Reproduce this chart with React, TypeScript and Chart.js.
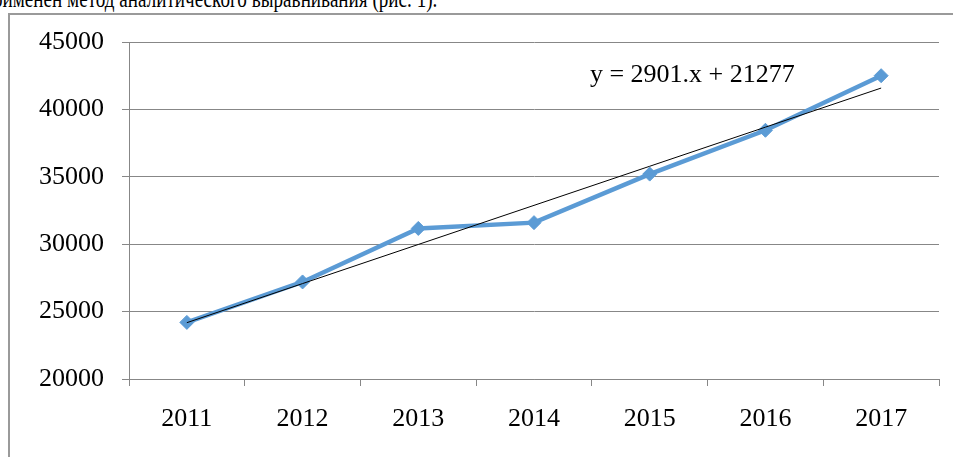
import React, { useEffect, useRef } from "react";
import { Chart, registerables } from "chart.js";

Chart.register(...registerables);

const years: string[] = ["2011", "2012", "2013", "2014", "2015", "2016", "2017"];
const values: number[] = [24200, 27200, 31170, 31600, 35200, 38450, 42500];
const trendSlope = 2901;
const trendIntercept = 21277;
const trendLabel = "y = 2901.x + 21277";
const yMin = 20000;
const yMax = 45000;
const yStep = 5000;
const caption = "применен метод аналитического выравнивания (рис. 1).";

const trendValues: number[] = years.map((_, i) => trendSlope * (i + 1) + trendIntercept);

const FONT_FAMILY = '"Liberation Serif", "Times New Roman", serif';
const GRID = "#878787";

const equationPlugin = {
  id: "equationLabel",
  afterDatasetsDraw(chart: any) {
    const { ctx, chartArea } = chart;
    ctx.save();
    ctx.font = `26px ${FONT_FAMILY}`;
    ctx.fillStyle = "#000";
    ctx.textAlign = "left";
    ctx.textBaseline = "middle";
    const x = chartArea.left + (chartArea.right - chartArea.left) * 0.569;
    const y = chartArea.top + (chartArea.bottom - chartArea.top) * 0.098;
    ctx.fillText(trendLabel, x, y);
    ctx.restore();
  },
};

export default function App() {
  const canvasRef = useRef<HTMLCanvasElement | null>(null);

  useEffect(() => {
    if (!canvasRef.current) return;
    const font = { family: FONT_FAMILY, size: 26 };
    const chart = new Chart(canvasRef.current, {
      type: "line",
      data: {
        labels: years,
        datasets: [
          {
            label: "trend",
            data: trendValues,
            borderColor: "#000000",
            borderWidth: 1,
            pointRadius: 0,
            fill: false,
            tension: 0,
          },
          {
            label: "values",
            data: values,
            borderColor: "#5B9BD5",
            backgroundColor: "#5B9BD5",
            borderWidth: 4.5,
            pointStyle: "rectRot",
            pointRadius: 7,
            pointBackgroundColor: "#5B9BD5",
            pointBorderColor: "#5B9BD5",
            pointBorderWidth: 1,
            fill: false,
            tension: 0,
          },
        ],
      },
      options: {
        animation: false,
        responsive: false,
        maintainAspectRatio: false,
        layout: { padding: { top: 42, right: 14, left: 0, bottom: 0 } },
        plugins: { legend: { display: false }, tooltip: { enabled: false } },
        scales: {
          x: {
            type: "category",
            offset: true,
            grid: {
              display: true,
              drawOnChartArea: false,
              drawTicks: true,
              tickLength: 7,
              color: GRID,
              offset: true,
            },
            border: { display: true, color: GRID, width: 1 },
            ticks: { font, color: "#000", padding: 18, maxRotation: 0, autoSkip: false },
            afterFit: (s: any) => {
              s.height = 78;
            },
          },
          y: {
            min: yMin,
            max: yMax,
            ticks: {
              stepSize: yStep,
              font,
              color: "#000",
              padding: 18,
              callback: (v: any) => String(v),
            },
            grid: { color: GRID, tickLength: 7, drawTicks: true },
            border: { display: true, color: GRID, width: 1 },
            afterFit: (s: any) => {
              s.width = 129;
            },
          },
        },
      },
      plugins: [equationPlugin],
    });
    return () => chart.destroy();
  }, []);

  return (
    <div style={{ position: "fixed", left: 0, top: 0, width: 953, height: 457, overflow: "hidden", background: "#fff" }}>
      <div
        style={{
          position: "absolute",
          right: 516,
          top: -14,
          textAlign: "right",
          whiteSpace: "nowrap",
          fontFamily: FONT_FAMILY,
          fontSize: 25,
          lineHeight: "25px",
          color: "#000",
          transform: "scaleX(0.765)",
          transformOrigin: "right top",
        }}
      >
        {caption}
      </div>
      <div
        style={{
          position: "absolute",
          left: 8,
          top: 13,
          width: 960,
          height: 460,
          borderLeft: "2px solid #9a9a9a",
          borderTop: "2px solid #9a9a9a",
          boxSizing: "border-box",
        }}
      />
      <canvas ref={canvasRef} width={953} height={457} style={{ position: "absolute", left: 0, top: 0 }} />
    </div>
  );
}
